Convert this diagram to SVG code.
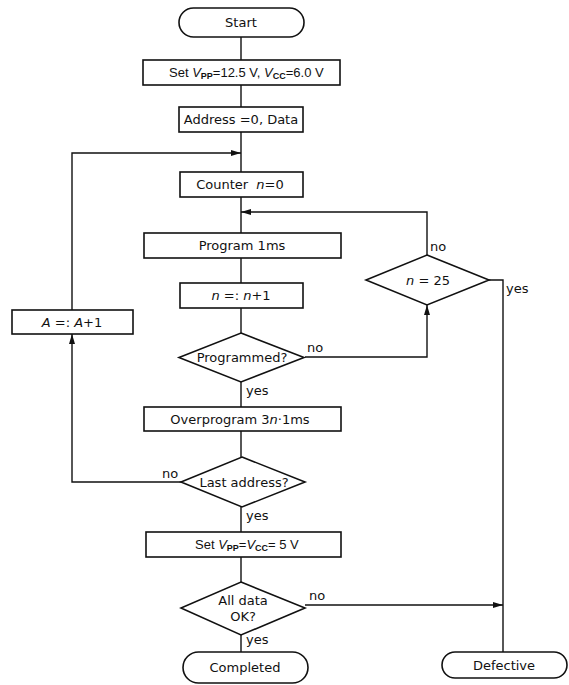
<svg xmlns="http://www.w3.org/2000/svg" width="569" height="685" viewBox="0 0 569 685">
<defs>
<style>
.s{fill:#fff;stroke:#111;stroke-width:1.6}
.c{fill:none;stroke:#111;stroke-width:1.4}
text{font-family:"DejaVu Sans","Liberation Sans",sans-serif;font-size:13px;fill:#111}
.t{text-anchor:middle}
.i{font-style:italic}
.v{font-family:"Liberation Sans",Arial,sans-serif}
.sub{font-size:9px;font-weight:bold}
</style>
<marker id="a" viewBox="0 0 10 6" refX="10" refY="3" markerWidth="10" markerHeight="6" orient="auto" markerUnits="userSpaceOnUse">
<path d="M0,0 L10,3 L0,6 Z" fill="#111"/>
</marker>
</defs>
<rect width="569" height="685" fill="#fff"/>
<g id="connectors">
<path class="c" d="M241,37V60M241,85V107M241,132V172M241,197V233M241,258V283M241,308V333M241,382V407M241,431V457M241,507V532M241,557V582M241,635V652"/>
<path class="c" d="M72,310V153H241" marker-end="url(#a)"/>
<path class="c" d="M181,482H72V334" marker-end="url(#a)"/>
<path class="c" d="M305,357H427V305" marker-end="url(#a)"/>
<path class="c" d="M427,255V212H241" marker-end="url(#a)"/>
<path class="c" d="M489,280H503V652"/>
<path class="c" d="M305,605H503" marker-end="url(#a)"/>
<text x="430" y="251">no</text>
<text x="506" y="293">yes</text>
<text x="307" y="352">no</text>
<text x="246" y="395">yes</text>
<text x="162" y="478">no</text>
<text x="246" y="520">yes</text>
<text x="309" y="600">no</text>
<text x="246" y="644">yes</text>
</g>
<g id="start"><rect class="s" x="179" y="8" width="125" height="29" rx="14.5"/><text class="t" x="241" y="27">Start</text></g>
<g id="setvpp"><rect class="s" x="143" y="60" width="197" height="25"/><text class="v" x="169" y="77">Set <tspan class="i">V</tspan><tspan class="sub" dy="2">PP</tspan><tspan dy="-2">=12.5 V, </tspan><tspan class="i">V</tspan><tspan class="sub" dy="2">CC</tspan><tspan dy="-2">=6.0 V</tspan></text></g>
<g id="address"><rect class="s" x="179" y="107" width="124" height="25"/><text class="t" x="241" y="124">Address =0, Data</text></g>
<g id="counter"><rect class="s" x="180" y="172" width="123" height="25"/><text class="t" x="240" y="189">Counter  <tspan class="i" dx="4">n</tspan>=0</text></g>
<g id="program"><rect class="s" x="144" y="233" width="197" height="25"/><text class="t" x="242" y="250">Program 1ms</text></g>
<g id="increment"><rect class="s" x="180" y="283" width="123" height="25"/><text class="t" x="241" y="300"><tspan class="i">n</tspan> =: <tspan class="i">n</tspan>+1</text></g>
<g id="programmed"><polygon class="s" points="241,333 304,357.5 241,382 179,357.5"/><text class="t" x="242" y="362">Programmed?</text></g>
<g id="overprogram"><rect class="s" x="144" y="407" width="197" height="24"/><text class="t" x="240" y="424">Overprogram 3<tspan class="i">n</tspan>·1ms</text></g>
<g id="lastaddress"><polygon class="s" points="242,457 305,482 242,507 181,482"/><text class="t" x="244" y="487">Last address?</text></g>
<g id="set5v"><rect class="s" x="146" y="532" width="195" height="25"/><text class="v" x="195" y="549">Set <tspan class="i">V</tspan><tspan class="sub" dy="2">PP</tspan><tspan dy="-2">=</tspan><tspan class="i">V</tspan><tspan class="sub" dy="2">CC</tspan><tspan dy="-2">= 5 V</tspan></text></g>
<g id="alldata"><polygon class="s" points="241,582 305,608 241,635 181,608"/><text class="t" x="243" y="605">All data</text><text class="t" x="243" y="621">OK?</text></g>
<g id="completed"><rect class="s" x="183" y="652" width="125" height="31" rx="15.5"/><text class="t" x="245" y="672">Completed</text></g>
<g id="incaddr"><rect class="s" x="12" y="310" width="121" height="24"/><text class="t" x="72" y="327"><tspan class="i">A</tspan> =: <tspan class="i">A</tspan>+1</text></g>
<g id="n25"><polygon class="s" points="427,255 489,280 427,305 366,280"/><text class="t" x="428" y="285"><tspan class="i">n</tspan> = 25</text></g>
<g id="defective"><rect class="s" x="442" y="652" width="125" height="26" rx="13"/><text class="t" x="504" y="670">Defective</text></g>
</svg>
